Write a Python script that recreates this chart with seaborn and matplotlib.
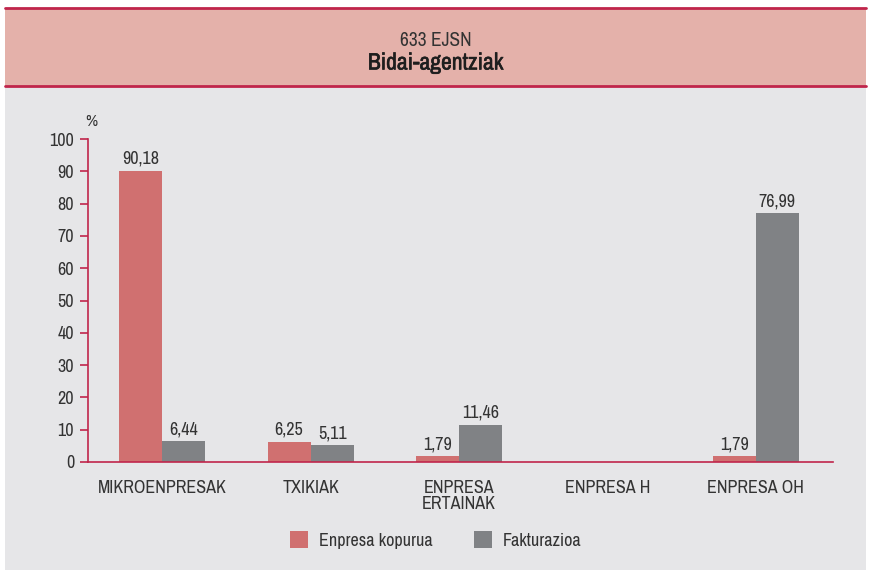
import numpy as np
import pandas as pd
import seaborn as sns
import matplotlib.pyplot as plt
import matplotlib.patheffects as pe
from matplotlib.patches import Rectangle
from matplotlib import font_manager

# datuak
kategoriak = ['MIKROENPRESAK', 'TXIKIAK', 'ENPRESA\nERTAINAK', 'ENPRESA H', 'ENPRESA OH']
enpresa_kopurua = [90.18, 6.25, 1.79, np.nan, 1.79]
fakturazioa = [6.44, 5.11, 11.46, np.nan, 76.99]
serieak = ['Enpresa kopurua', 'Fakturazioa']
ytikak = [0, 10, 20, 30, 40, 50, 60, 70, 80, 90, 100]

sns.set_theme(style='white')
izenak = sorted(set(f.name for f in font_manager.fontManager.ttflist))
estuak = [n for n in izenak if 'Narrow' in n or 'Condensed' in n]
letra = estuak[0] if estuak else 'Liberation Sans'
plt.rcParams['font.family'] = [letra, 'DejaVu Sans']

gorria = '#d07070'
grisa = '#808285'
marra = '#c0254b'
testua = '#333333'
tam = 13

tabela = pd.DataFrame({
    'kategoria': kategoriak * 2,
    'balioa': enpresa_kopurua + fakturazioa,
    'seriea': [serieak[0]] * 5 + [serieak[1]] * 5,
})

fig = plt.figure(figsize=(8.71, 5.72), dpi=100)
fig.patch.set_facecolor('white')

# atzeko panelak
fig.patches.append(Rectangle((5 / 871, 2 / 572), 861 / 871, 484 / 572, transform=fig.transFigure,
                             facecolor='#e6e6e8', edgecolor='none', zorder=-5))
fig.patches.append(Rectangle((5 / 871, 486 / 572), 861 / 871, 78 / 572, transform=fig.transFigure,
                             facecolor='#e4b1aa', edgecolor='none', zorder=-5))
for yy in [486 / 572, 564 / 572]:
    fig.add_artist(plt.Line2D([5 / 871, 866 / 871], [yy, yy], transform=fig.transFigure,
                              color=marra, lw=2, zorder=-4))
fig.text(0.5, 1 - 40 / 572, '633 EJSN', ha='center', va='center', fontsize=14, color=testua)
fig.text(0.5, 1 - 63 / 572, 'Bidai-agentziak', ha='center', va='center', fontsize=17,
         fontweight='bold', color='#1e1e1e',
         path_effects=[pe.withStroke(linewidth=0.4, foreground='#1e1e1e')])

ax = fig.add_axes([88 / 871, 1 - 462 / 572, 745 / 871, 323 / 572])
ax.set_facecolor('none')
sns.barplot(data=tabela, x='kategoria', y='balioa', hue='seriea', palette=[gorria, grisa],
            width=0.58, ax=ax, saturation=1, legend=True, linewidth=0, edgecolor='none')

for cont in ax.containers:
    etiketak = ['' if np.isnan(v) else f'{v:.2f}'.replace('.', ',') for v in cont.datavalues]
    ax.bar_label(cont, labels=etiketak, padding=3, fontsize=tam, color=testua)

ax.set_ylim(0, 100)
ax.set_xlim(-0.48, 4.52)
ax.set_yticks(ytikak)
ax.set_xlabel('')
ax.set_ylabel('')
ax.set_xticks(np.arange(len(kategoriak)))
ax.set_xticklabels(kategoriak, fontsize=tam, color=testua, linespacing=1.0)
ax.set_xticks(np.arange(-0.5, 5, 1), minor=True)
ax.tick_params(axis='x', which='major', length=0, pad=13)
ax.tick_params(axis='x', which='minor', length=7, width=1.2, color=marra, direction='out')
ax.tick_params(axis='y', length=6, width=1.2, color=marra, direction='out', labelsize=tam,
               labelcolor=testua, pad=4, left=True)
plt.setp(ax.get_xticklabels(), va='top')
for s in ['top', 'right']:
    ax.spines[s].set_visible(False)
for s in ['left', 'bottom']:
    ax.spines[s].set_color(marra)
    ax.spines[s].set_linewidth(1.2)
ax.text(-0.48, 103, '%', ha='center', va='bottom', fontsize=12, color=testua)

ax.legend(loc='center', bbox_to_anchor=(0.5, 1 - 540 / 572), bbox_transform=fig.transFigure,
          ncol=2, frameon=False, fontsize=tam, handlelength=1.0, handleheight=1.0,
          columnspacing=2.3, handletextpad=0.6)
for t in ax.get_legend().get_texts():
    t.set_color(testua)

plt.savefig('out.png', dpi=100)
